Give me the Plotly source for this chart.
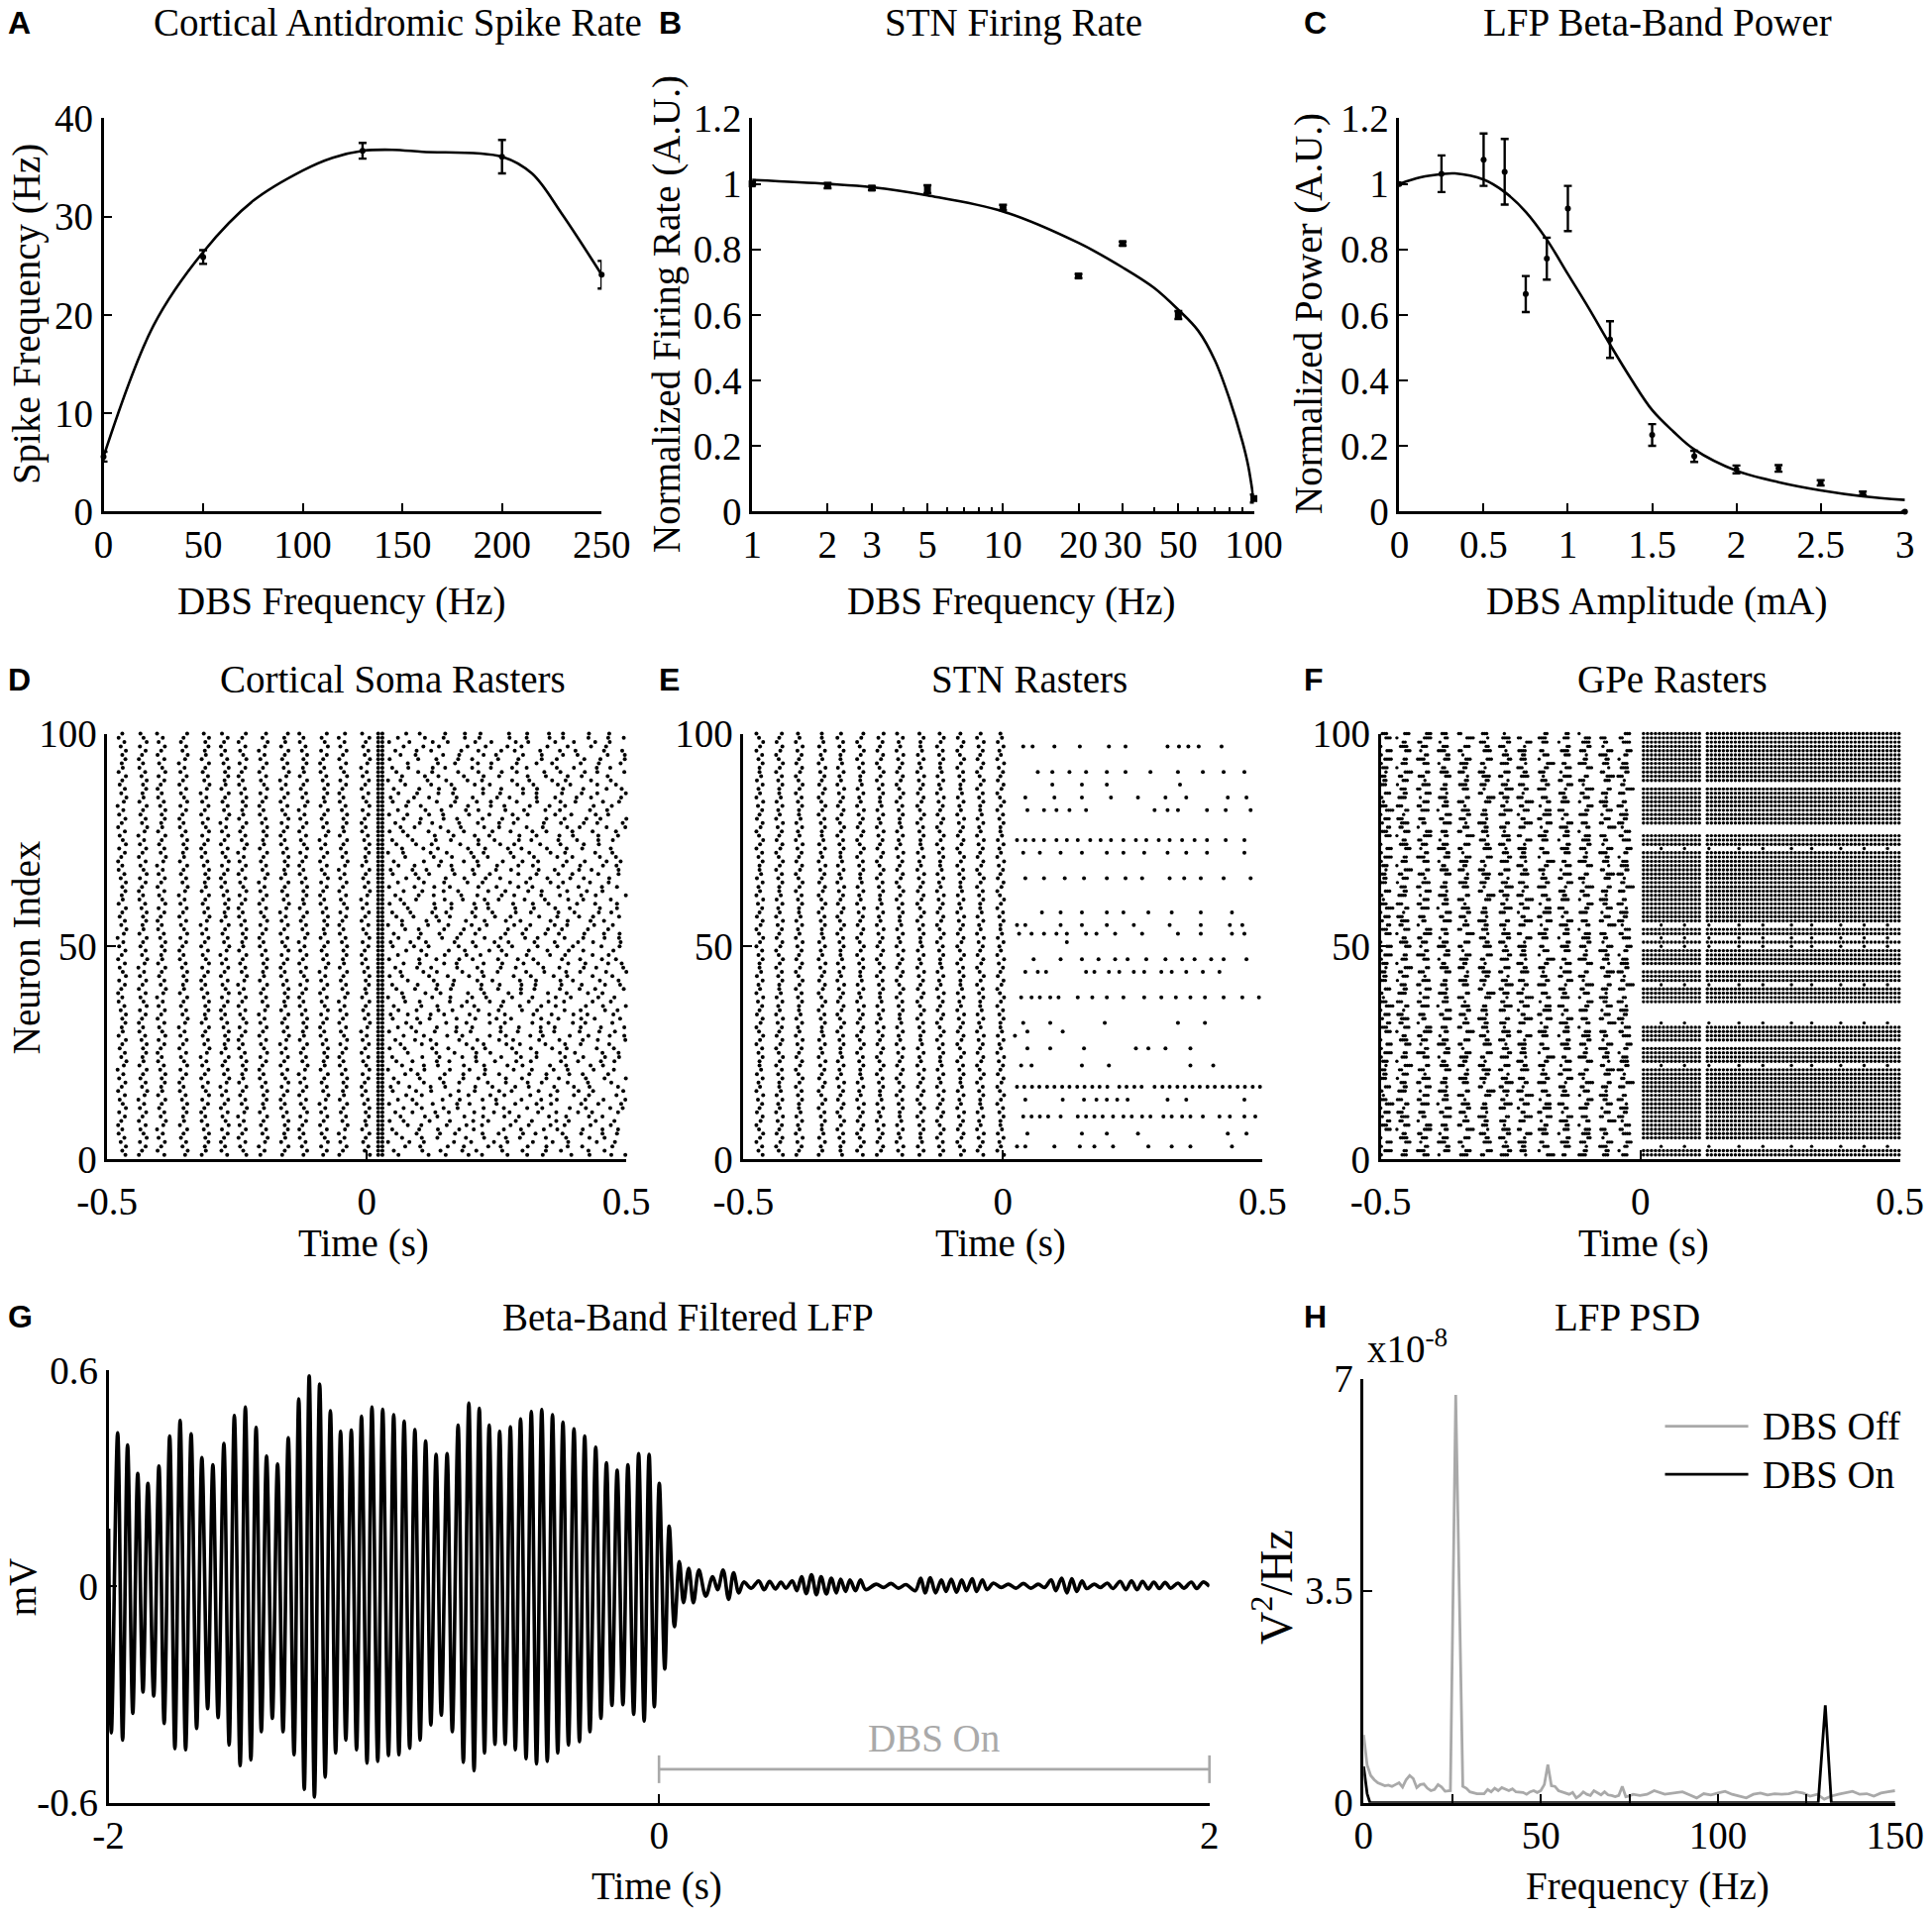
import plotly.graph_objects as go
from plotly.subplots import make_subplots

SERIF = "Liberation Serif"
SANS = "Liberation Sans"
GRAY = "#a9a9a9"

# ---- A: cortical antidromic spike rate vs DBS frequency
a_freq = [0, 50, 130, 200, 250]
a_rate = [5.6, 25.9, 36.7, 36.1, 24.1]
a_err = [0.5, 0.7, 0.8, 1.7, 1.4]
a_fit_x = [0, 25, 50, 75, 100, 115, 130, 145, 160, 200, 215, 230, 250]
a_fit_y = [5.6, 18.9, 26.4, 31.6, 34.7, 36.0, 36.7, 36.8, 36.6, 36.1, 34.4, 30.3, 24.1]

# ---- B: STN firing rate vs DBS frequency (log x)
b_freq = [1, 2, 3, 5, 10, 20, 30, 50, 100]
b_rate = [1.0, 0.995, 0.987, 0.984, 0.928, 0.719, 0.818, 0.600, 0.040]
b_err = [0.004, 0.008, 0.006, 0.012, 0.008, 0.006, 0.006, 0.012, 0.012]
b_fit_x = [1, 2, 3, 5, 10, 20, 30, 40, 50, 60, 70, 80, 90, 95, 100]
b_fit_y = [1.012, 1.0, 0.99, 0.965, 0.916, 0.82, 0.745, 0.683, 0.616, 0.552,
           0.461, 0.343, 0.214, 0.139, 0.032]

# ---- C: LFP beta power vs DBS amplitude
c_amp = [0, 0.25, 0.5, 0.625, 0.75, 0.875, 1.0, 1.25, 1.5, 1.75, 2.0, 2.25, 2.5, 2.75, 3.0]
c_pow = [1.0, 1.031, 1.074, 1.037, 0.664, 0.772, 0.925, 0.525, 0.234, 0.169,
         0.129, 0.132, 0.088, 0.056, 0.0]
c_err = [0.0, 0.056, 0.08, 0.1, 0.055, 0.064, 0.069, 0.056, 0.033, 0.017,
         0.012, 0.01, 0.008, 0.005, 0.0]
c_fit_x = [0, 0.125, 0.25, 0.33, 0.5, 0.625, 0.75, 0.875, 1.0, 1.125, 1.25,
           1.375, 1.5, 1.625, 1.75, 2.0, 2.25, 2.5, 2.75, 3.0]
c_fit_y = [1.0, 1.02, 1.03, 1.032, 1.013, 0.975, 0.915, 0.83, 0.725, 0.62, 0.51,
           0.405, 0.31, 0.245, 0.19, 0.125, 0.09, 0.065, 0.047, 0.036]

# ---- D/E/F: rasters (100 neurons)
neurons = list(range(1, 101))

ctx_bands = [-0.472, -0.432, -0.396, -0.354, -0.312, -0.274, -0.240, -0.200,
             -0.159, -0.123, -0.083, -0.046, -0.003]
ctx_onset = [0.022, 0.030]
ctx_jitter = [0.000, 0.007, 0.001, 0.008, -0.002, 0.005, -0.006, 0.001, -0.007,
              -0.001, 0.006, -0.005, 0.008, 0.002, -0.004, 0.006, -0.007, 0.000,
              0.007, -0.005, 0.003, -0.008, 0.004, 0.009, -0.001, 0.006, -0.004,
              0.001, 0.008, -0.006, 0.002]
# asynchronous firing after DBS onset: first spike and inter-spike intervals (s)
ctx_post_start = [0.046, 0.061, 0.052, 0.074, 0.041, 0.068, 0.057, 0.049, 0.079,
                  0.044, 0.065, 0.055, 0.071, 0.043, 0.060, 0.076, 0.050]
ctx_post_isi = [0.031, 0.047, 0.024, 0.052, 0.036, 0.041, 0.028, 0.058, 0.033,
                0.044, 0.026, 0.049, 0.038, 0.030, 0.055, 0.035, 0.042, 0.027,
                0.050, 0.039, 0.045, 0.029, 0.053]

stn_bands = [-0.469, -0.431, -0.393, -0.349, -0.313, -0.275, -0.237, -0.199,
             -0.159, -0.121, -0.082, -0.044, -0.005]
stn_jitter = [0.000, 0.006, -0.002, 0.005, -0.006, 0.001, 0.007, -0.001, -0.006,
              0.002, 0.006, -0.005, 0.000, 0.005, -0.003, 0.007, -0.006, 0.001,
              -0.002, 0.006, -0.005, 0.003, 0.000]
stn_post = {
    97: [0.039, 0.057, 0.099, 0.148, 0.204, 0.236, 0.317, 0.339, 0.357, 0.377, 0.421],
    91: [0.067, 0.095, 0.128, 0.160, 0.200, 0.236, 0.284, 0.337, 0.385, 0.425, 0.465],
    88: [0.095, 0.152, 0.200, 0.341],
    85: [0.043, 0.099, 0.152, 0.208, 0.260, 0.313, 0.353, 0.433, 0.469],
    82: [0.047, 0.079, 0.103, 0.128, 0.160, 0.292, 0.317, 0.337, 0.393, 0.429, 0.477],
    75: [0.027, 0.043, 0.059, 0.079, 0.103, 0.123, 0.144, 0.168, 0.188, 0.208,
         0.232, 0.256, 0.276, 0.300, 0.321, 0.345, 0.369, 0.393, 0.429, 0.465],
    72: [0.039, 0.071, 0.111, 0.152, 0.200, 0.232, 0.272, 0.317, 0.353, 0.393, 0.465],
    66: [0.043, 0.079, 0.119, 0.156, 0.200, 0.236, 0.268, 0.321, 0.349, 0.381, 0.425, 0.477],
    58: [0.075, 0.111, 0.152, 0.200, 0.232, 0.280, 0.325, 0.381, 0.441],
    55: [0.027, 0.043, 0.111, 0.152, 0.200, 0.252, 0.321, 0.381, 0.437, 0.461],
    53: [0.031, 0.055, 0.079, 0.103, 0.123, 0.160, 0.180, 0.216, 0.268, 0.337,
         0.381, 0.441, 0.465],
    51: [0.123],
    47: [0.059, 0.111, 0.152, 0.184, 0.216, 0.240, 0.276, 0.313, 0.345, 0.369,
         0.401, 0.425, 0.469],
    44: [0.043, 0.067, 0.083, 0.160, 0.176, 0.204, 0.224, 0.252, 0.272, 0.305,
         0.325, 0.353, 0.385, 0.417],
    38: [0.035, 0.055, 0.071, 0.091, 0.107, 0.144, 0.172, 0.200, 0.232, 0.272,
         0.305, 0.333, 0.361, 0.389, 0.425, 0.461, 0.493],
    32: [0.039, 0.091, 0.196, 0.337, 0.389],
    30: [0.047, 0.115],
    29: [0.023],
    26: [0.047, 0.091, 0.156, 0.256, 0.280, 0.313, 0.361],
    22: [0.035, 0.055, 0.152, 0.204, 0.361, 0.405],
    17: [0.027, 0.041, 0.056, 0.070, 0.085, 0.099, 0.114, 0.128, 0.143, 0.157,
         0.172, 0.186, 0.201, 0.224, 0.238, 0.253, 0.267, 0.292, 0.307, 0.321,
         0.336, 0.350, 0.365, 0.379, 0.394, 0.408, 0.423, 0.437, 0.452, 0.466,
         0.481, 0.495],
    14: [0.043, 0.115, 0.156, 0.180, 0.200, 0.220, 0.240, 0.317, 0.353, 0.465],
    10: [0.039, 0.055, 0.071, 0.087, 0.111, 0.144, 0.160, 0.176, 0.192, 0.212,
         0.232, 0.248, 0.268, 0.284, 0.309, 0.325, 0.345, 0.361, 0.385, 0.417,
         0.437, 0.465, 0.486],
    6: [0.047, 0.152, 0.200, 0.260, 0.433, 0.469],
    3: [0.027, 0.043, 0.099, 0.148, 0.176, 0.212, 0.280, 0.325, 0.361, 0.441],
}

gpe_bands = [-0.496, -0.461, -0.421, -0.382, -0.342, -0.303, -0.263, -0.228,
             -0.188, -0.149, -0.110, -0.070, -0.035]
gpe_jitter = [0.000, -0.007, 0.004, -0.003, 0.008, -0.008, 0.002, 0.006, -0.005,
              0.009, -0.001, 0.004, -0.008, 0.007, -0.002, 0.001, -0.006, 0.005,
              0.009, -0.007, 0.002, -0.004, 0.006]
gpe_burst = [3, 2, 4, 1, 3, 2, 0, 3, 4, 2, 1, 3, 2, 4, 3, 1, 2, 3, 0, 4, 2, 3, 1]
gpe_isi = 0.004
dbs_rate = 130.0
gpe_first_pulse = 0.006
gpe_gap = [0.118, 0.125]
gpe_silent = [4, 27, 33, 34, 35, 36, 45, 77, 78, 88]
gpe_sparse_rows = [3, 22, 32, 41, 50, 52, 55, 73]
gpe_sparse_times = [0.040, 0.085, 0.132, 0.190, 0.236, 0.291, 0.330, 0.386, 0.431, 0.476]

# ---- G: beta-band filtered LFP (extrema of the trace, s / mV)
lfp_t = [
    -2.000, -1.990, -1.967, -1.949, -1.931, -1.912, -1.894, -1.875, -1.857, -1.836,
    -1.817, -1.798, -1.778, -1.759, -1.740, -1.720, -1.700, -1.680, -1.661, -1.640,
    -1.621, -1.602, -1.581, -1.562, -1.543, -1.522, -1.503, -1.483, -1.464, -1.445,
    -1.426, -1.405, -1.386, -1.366, -1.347, -1.326, -1.309, -1.289, -1.271, -1.252,
    -1.233, -1.213, -1.194, -1.175, -1.157, -1.138, -1.118, -1.099, -1.081, -1.061,
    -1.043, -1.022, -1.004, -0.983, -0.964, -0.945, -0.926, -0.906, -0.887, -0.868,
    -0.848, -0.829, -0.810, -0.791, -0.770, -0.751, -0.730, -0.711, -0.691, -0.672,
    -0.653, -0.634, -0.617, -0.596, -0.579, -0.559, -0.540, -0.522, -0.503, -0.483,
    -0.464, -0.445, -0.426, -0.406, -0.387, -0.368, -0.349, -0.329, -0.309, -0.289,
    -0.270, -0.251, -0.230, -0.211, -0.191, -0.171, -0.152, -0.131, -0.113, -0.092,
    -0.074, -0.054, -0.036, -0.017, 0.001, 0.021, 0.037, 0.056, 0.074, 0.089,
    0.108, 0.125, 0.145, 0.170, 0.195, 0.213, 0.233, 0.253, 0.271, 0.290,
    0.308, 0.335, 0.362, 0.382, 0.402, 0.423, 0.443, 0.461, 0.484, 0.501,
    0.518, 0.535, 0.554, 0.572, 0.589, 0.608, 0.626, 0.644, 0.660, 0.678,
    0.694, 0.714, 0.732, 0.751, 0.789, 0.816, 0.843, 0.870, 0.897, 0.931,
    0.951, 0.967, 0.986, 1.005, 1.026, 1.043, 1.062, 1.081, 1.100, 1.117,
    1.138, 1.154, 1.175, 1.192, 1.215, 1.243, 1.270, 1.297, 1.324, 1.351,
    1.378, 1.401, 1.425, 1.442, 1.463, 1.482, 1.500, 1.518, 1.537, 1.554,
    1.581, 1.604, 1.629, 1.649, 1.676, 1.696, 1.717, 1.737, 1.757, 1.778,
    1.798, 1.818, 1.839, 1.859, 1.886, 1.907, 1.934, 1.954, 1.977, 2.000,
]
lfp_mv = [
    0.160, -0.406, 0.426, -0.426, 0.392, -0.352, 0.313, -0.293, 0.286, -0.304,
    0.334, -0.380, 0.417, -0.450, 0.460, -0.453, 0.423, -0.394, 0.357, -0.339,
    0.337, -0.364, 0.396, -0.440, 0.474, -0.497, 0.497, -0.481, 0.441, -0.403,
    0.361, -0.366, 0.339, -0.403, 0.412, -0.467, 0.520, -0.563, 0.584, -0.584,
    0.561, -0.529, 0.487, -0.462, 0.430, -0.426, 0.433, -0.453, 0.472, -0.490,
    0.497, -0.485, 0.491, -0.469, 0.476, -0.467, 0.458, -0.449, 0.435, -0.426,
    0.403, -0.384, 0.366, -0.357, 0.368, -0.403, 0.447, -0.488, 0.508, -0.511,
    0.494, -0.462, 0.447, -0.438, 0.430, -0.438, 0.442, -0.453, 0.464, -0.478,
    0.485, -0.492, 0.490, -0.485, 0.476, -0.462, 0.455, -0.440, 0.437, -0.430,
    0.417, -0.403, 0.386, -0.366, 0.343, -0.330, 0.322, -0.328, 0.337, -0.355,
    0.368, -0.373, 0.366, -0.334, 0.286, -0.229, 0.167, -0.112, 0.069, -0.045,
    0.050, -0.045, 0.045, -0.027, 0.027, -0.009, 0.045, -0.036, 0.038, -0.018,
    0.012, -0.005, 0.015, -0.009, 0.014, -0.007, 0.012, -0.005, 0.015, -0.012,
    0.027, -0.020, 0.032, -0.023, 0.027, -0.021, 0.023, -0.018, 0.020, -0.014,
    0.018, -0.012, 0.018, -0.009, 0.006, -0.003, 0.008, -0.005, 0.005, -0.012,
    0.023, -0.018, 0.024, -0.018, 0.018, -0.014, 0.020, -0.016, 0.018, -0.012,
    0.021, -0.014, 0.018, -0.009, 0.009, -0.003, 0.006, -0.005, 0.008, -0.005,
    0.006, -0.003, 0.018, -0.012, 0.023, -0.018, 0.021, -0.014, 0.015, -0.006,
    0.006, -0.003, 0.009, -0.006, 0.014, -0.009, 0.015, -0.009, 0.014, -0.007,
    0.012, -0.006, 0.011, -0.005, 0.009, -0.005, 0.012, -0.006, 0.012, 0.000,
]
dbs_on_window = [0, 2]

# ---- H: LFP power spectral density (x1e-8 V^2/Hz)
psd_f_off = [
    0, 0.5, 1, 2, 3, 4, 5, 6, 7, 8, 9, 10, 11, 12, 13, 14, 15, 16, 17, 18,
    19, 20, 21, 22, 23, 24.5, 26, 28, 29, 30, 32, 34, 35, 36, 37, 38, 39, 40, 41, 42,
    43, 45, 46, 47, 48, 49, 50, 51, 52, 53, 54, 55, 56, 57, 58, 59, 60, 61, 62, 63,
    64, 65, 66, 67, 68, 69, 70, 71, 72, 73, 74, 75, 76, 78, 80, 82, 85, 88, 90, 92,
    94, 96, 98, 100, 102, 104, 106, 108, 110, 112, 114, 116, 118, 120, 122, 124, 126, 128, 130, 132,
    134, 136, 138, 140, 142, 144, 146, 148, 150,
]
psd_off = [
    1.12, 0.85, 0.62, 0.45, 0.38, 0.33, 0.30, 0.28, 0.29, 0.27, 0.30, 0.33, 0.26, 0.38, 0.45, 0.40, 0.25, 0.30, 0.31, 0.24,
    0.20, 0.22, 0.30, 0.26, 0.19, 0.20, 6.73, 0.27, 0.24, 0.18, 0.15, 0.15, 0.22, 0.18, 0.24, 0.20, 0.25, 0.22, 0.20, 0.23,
    0.18, 0.17, 0.14, 0.18, 0.20, 0.17, 0.20, 0.30, 0.63, 0.28, 0.27, 0.20, 0.18, 0.16, 0.14, 0.17, 0.08, 0.12, 0.18, 0.14,
    0.12, 0.20, 0.16, 0.13, 0.18, 0.13, 0.12, 0.10, 0.12, 0.27, 0.10, 0.11, 0.14, 0.12, 0.14, 0.20, 0.14, 0.16, 0.18, 0.13,
    0.08, 0.15, 0.13, 0.16, 0.19, 0.14, 0.11, 0.08, 0.14, 0.16, 0.13, 0.15, 0.14, 0.15, 0.18, 0.16, 0.11, 0.14, 0.06, 0.11,
    0.14, 0.16, 0.19, 0.14, 0.15, 0.11, 0.16, 0.18, 0.20,
]
psd_f_on = [0, 0.5, 1, 1.8, 128.3, 130.3, 132, 150]
psd_on = [0.60, 0.35, 0.15, 0.0, 0.0, 1.61, 0.0, 0.0]


def band_raster(bands, jitter, step):
    xs, ys = [], []
    for k, t0 in enumerate(bands):
        for n in neurons:
            xs.append(t0 + jitter[(n + step * k) % len(jitter)])
            ys.append(n)
    return xs, ys


# cortical soma raster
ctx_x, ctx_y = band_raster(ctx_bands, ctx_jitter, 7)
for t0 in ctx_onset:
    ctx_x += [t0] * len(neurons)
    ctx_y += neurons
for n in neurons:
    t = ctx_post_start[n % len(ctx_post_start)]
    i = (n * 7) % len(ctx_post_isi)
    while t < 0.5:
        ctx_x.append(t)
        ctx_y.append(n)
        t += ctx_post_isi[i % len(ctx_post_isi)]
        i += 1

# STN raster
stn_x, stn_y = band_raster(stn_bands, stn_jitter, 5)
for n, times in stn_post.items():
    stn_x += times
    stn_y += [n] * len(times)

# GPe raster
gpe_x, gpe_y = [], []
for k, t0 in enumerate(gpe_bands):
    for n in neurons:
        count = gpe_burst[(n + 3 * k) % len(gpe_burst)]
        start = t0 + gpe_jitter[(n + 5 * k) % len(gpe_jitter)]
        for j in range(count):
            gpe_x.append(start + j * gpe_isi)
            gpe_y.append(n)
pulses = []
t = gpe_first_pulse
while t < 0.5:
    if not (gpe_gap[0] < t < gpe_gap[1]):
        pulses.append(t)
    t += 1.0 / dbs_rate
for n in neurons:
    if n in gpe_silent:
        continue
    times = gpe_sparse_times if n in gpe_sparse_rows else pulses
    gpe_x += times
    gpe_y += [n] * len(times)


fig = make_subplots(
    rows=3,
    cols=3,
    specs=[[{}, {}, {}], [{}, {}, {}], [{"colspan": 2}, None, {}]],
)

line_black = dict(color="black", width=2.6)
err_style = dict(type="data", color="black", thickness=2.4, width=4)

# A
fig.add_trace(go.Scatter(x=a_fit_x, y=a_fit_y, mode="lines", line=dict(shape="spline", **line_black)), row=1, col=1)
fig.add_trace(
    go.Scatter(x=a_freq, y=a_rate, mode="markers", marker=dict(color="black", size=6),
               error_y=dict(array=a_err, **err_style), cliponaxis=False),
    row=1, col=1,
)
# B
fig.add_trace(go.Scatter(x=b_fit_x, y=b_fit_y, mode="lines", line=dict(shape="spline", **line_black)), row=1, col=2)
fig.add_trace(
    go.Scatter(x=b_freq, y=b_rate, mode="markers", marker=dict(color="black", size=7, symbol="square"),
               error_y=dict(array=b_err, **err_style), cliponaxis=False),
    row=1, col=2,
)
# C
fig.add_trace(go.Scatter(x=c_fit_x, y=c_fit_y, mode="lines", line=dict(shape="spline", **line_black)), row=1, col=3)
fig.add_trace(
    go.Scatter(x=c_amp, y=c_pow, mode="markers", marker=dict(color="black", size=6),
               error_y=dict(array=c_err, **err_style), cliponaxis=False),
    row=1, col=3,
)

# D, E, F rasters
dot = dict(color="black", size=4, line=dict(width=0))
fig.add_trace(go.Scatter(x=ctx_x, y=ctx_y, mode="markers", marker=dot, cliponaxis=False), row=2, col=1)
fig.add_trace(go.Scatter(x=stn_x, y=stn_y, mode="markers", marker=dot, cliponaxis=False), row=2, col=2)
fig.add_trace(go.Scatter(x=gpe_x, y=gpe_y, mode="markers", marker=dict(dot, size=3.4), cliponaxis=False), row=2, col=3)

# G
fig.add_trace(go.Scatter(x=lfp_t, y=lfp_mv, mode="lines", line=dict(color="black", width=3.6, shape="spline")), row=3, col=1)
fig.add_trace(
    go.Scatter(x=dbs_on_window, y=[-0.507, -0.507], mode="lines+markers",
               line=dict(color=GRAY, width=2.6),
               marker=dict(symbol="line-ns", size=20, line=dict(color=GRAY, width=2.6)),
               cliponaxis=False),
    row=3, col=1,
)

# H
fig.add_trace(go.Scatter(x=psd_f_off, y=psd_off, mode="lines", line=dict(color=GRAY, width=2.8)), row=3, col=3)
fig.add_trace(go.Scatter(x=psd_f_on, y=psd_on, mode="lines", line=dict(color="black", width=2.8)), row=3, col=3)

tick_font = dict(family=SERIF, size=39, color="black")
axis_style = dict(showline=True, linecolor="black", linewidth=2.6, ticks="inside", ticklen=9,
                  tickwidth=2, tickcolor="black", showgrid=False, zeroline=False,
                  tickfont=tick_font, automargin=False)
fig.update_xaxes(ticklabelstandoff=-3, **axis_style)
fig.update_yaxes(ticklabelstandoff=0, **axis_style)

top_y = [0.7328, 0.9382]
mid_y = [0.3947, 0.6169]
raster_x = dict(range=[-0.5, 0.5], tickvals=[-0.5, 0, 0.5], ticktext=["-0.5", "0", "0.5"],
                ticklabelstandoff=6)
raster_y = dict(range=[0, 100], tickvals=[0, 50, 100], domain=mid_y)
minor_in = dict(ticks="inside", tickcolor="black", showgrid=False)

fig.update_layout(
    width=1950,
    height=1933,
    margin=dict(l=0, r=0, t=0, b=0),
    paper_bgcolor="white",
    plot_bgcolor="white",
    showlegend=False,
    xaxis=dict(domain=[0.0536, 0.3114], range=[0, 250], tickvals=[0, 50, 100, 150, 200, 250]),
    yaxis=dict(domain=top_y, range=[0, 40], tickvals=[0, 10, 20, 30, 40]),
    xaxis2=dict(domain=[0.3893, 0.6490], type="log", range=[0, 2],
                tickvals=[1, 2, 3, 5, 10, 20, 30, 50, 100],
                minor=dict(tickvals=[4, 6, 7, 8, 9, 40, 60, 70, 80, 90], ticklen=5, tickwidth=1.5, **minor_in)),
    yaxis2=dict(domain=top_y, range=[0, 1.2], tickvals=[0, 0.2, 0.4, 0.6, 0.8, 1, 1.2],
                ticktext=["0", "0.2", "0.4", "0.6", "0.8", "1", "1.2"]),
    xaxis3=dict(domain=[0.7243, 0.9860], range=[0, 3], tickvals=[0, 0.5, 1, 1.5, 2, 2.5, 3]),
    yaxis3=dict(domain=top_y, range=[0, 1.2], tickvals=[0, 0.2, 0.4, 0.6, 0.8, 1, 1.2],
                ticktext=["0", "0.2", "0.4", "0.6", "0.8", "1", "1.2"]),
    xaxis4=dict(domain=[0.0555, 0.3242], **raster_x),
    yaxis4=raster_y,
    xaxis5=dict(domain=[0.3848, 0.6535], **raster_x),
    yaxis5=raster_y,
    xaxis6=dict(domain=[0.7147, 0.9834], **raster_x),
    yaxis6=raster_y,
    xaxis7=dict(domain=[0.0562, 0.6260], range=[-2, 2], tickvals=[-2, 0, 2], ticktext=["-2", "0", "2"]),
    yaxis7=dict(domain=[0.0586, 0.2846], range=[-0.6, 0.6], tickvals=[-0.6, 0, 0.6],
                ticktext=["-0.6", "0", "0.6"]),
    xaxis8=dict(domain=[0.7058, 0.9809], range=[0, 150], tickvals=[0, 50, 100, 150],
                minor=dict(tickvals=[25, 75, 125], ticklen=9, tickwidth=2, **minor_in)),
    yaxis8=dict(domain=[0.0586, 0.2801], range=[0, 7], tickvals=[0, 3.5, 7]),
)

text_font = dict(family=SERIF, size=39, color="black")
letter_font = dict(family=SANS, size=32, color="black")


def label(text, x, y, angle=0, font=text_font, xanchor="center"):
    fig.add_annotation(text=text, x=x, y=y, xref="paper", yref="paper", showarrow=False,
                       textangle=angle, font=font, xanchor=xanchor, yanchor="middle")


# panel titles
for text, x, y in [
    ("Cortical Antidromic Spike Rate", 0.2061, 0.9882),
    ("STN Firing Rate", 0.5246, 0.9882),
    ("LFP Beta-Band Power", 0.8577, 0.9882),
    ("Cortical Soma Rasters", 0.2031, 0.6452),
    ("STN Rasters", 0.5329, 0.6452),
    ("GPe Rasters", 0.8654, 0.6452),
    ("Beta-Band Filtered LFP", 0.3561, 0.3123),
    ("LFP PSD", 0.8424, 0.3123),
]:
    label(text, x, y)

# panel letters
for text, x, y in [
    ("A", 0.003, 0.9882), ("B", 0.340, 0.9882), ("C", 0.674, 0.9882),
    ("D", 0.003, 0.6452), ("E", 0.340, 0.6452), ("F", 0.674, 0.6452),
    ("G", 0.003, 0.3123), ("H", 0.674, 0.3123),
]:
    label("<b>%s</b>" % text, x, y, font=letter_font, xanchor="left")

# axis titles
label("DBS Frequency (Hz)", 0.1767, 0.6858)
label("DBS Frequency (Hz)", 0.5233, 0.6858)
label("DBS Amplitude (mA)", 0.8577, 0.6858)
label("Spike Frequency (Hz)", 0.0140, 0.8361, angle=-90)
label("Normalized Firing Rate (A.U.)", 0.3452, 0.8361, angle=-90)
label("Normalized Power (A.U.)", 0.6775, 0.8361, angle=-90)
label("Neuron Index", 0.0140, 0.5055, angle=-90)
label("Time (s)", 0.1883, 0.3510)
label("Time (s)", 0.5182, 0.3510)
label("Time (s)", 0.8507, 0.3510)
label("mV", 0.0115, 0.1713, angle=-90)
label("Time (s)", 0.3401, 0.0150)
label("Frequency (Hz)", 0.8526, 0.0150)
label("V<sup>2</sup>/Hz", 0.6585, 0.1713, angle=-90, font=dict(family=SERIF, size=46, color="black"))
label("x10<sup>-8</sup>", 0.7065, 0.2968, xanchor="left")

# DBS On label
fig.add_annotation(text="DBS On", x=1, y=-0.42, xref="x7", yref="y7", showarrow=False,
                   font=dict(family=SERIF, size=39, color=GRAY))

# legend for H
for name, color, y in [("DBS Off", GRAY, 0.2552), ("DBS On", "black", 0.2301)]:
    fig.add_shape(type="line", xref="paper", yref="paper", x0=0.8618, x1=0.9049, y0=y, y1=y,
                  line=dict(color=color, width=2.8))
    label(name, 0.9113, y, xanchor="left")

fig.write_html("out.html", config={"displayModeBar": False},
               post_script="document.body.style.margin = '0';")
